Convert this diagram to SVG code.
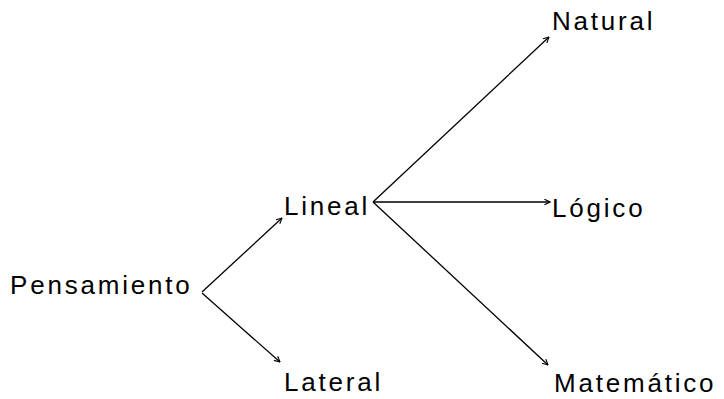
<svg xmlns="http://www.w3.org/2000/svg" width="724" height="399" viewBox="0 0 724 399">
  <style>
    .lbl { font-family: "Liberation Sans", Arial, sans-serif; font-size: 26px; letter-spacing: 2.8px; fill: #000; }
    .edge { stroke: #000; stroke-width: 1.3; fill: none; marker-end: url(#arrow); }
  </style>
  <defs>
    <marker id="arrow" viewBox="0 0 10 10" refX="9" refY="5" markerWidth="7" markerHeight="7" markerUnits="userSpaceOnUse" orient="auto">
      <path d="M1,1 L9,5 L1,9" fill="none" stroke="#000" stroke-width="1.6"/>
    </marker>
  </defs>
  <rect width="724" height="399" fill="#fff"/>

  <g id="connectors">
    <line class="edge" x1="202" y1="292" x2="282" y2="218"/>
    <line class="edge" x1="202" y1="293" x2="280" y2="362"/>
    <line class="edge" x1="373" y1="202" x2="549" y2="37"/>
    <line class="edge" x1="373" y1="202" x2="550" y2="202"/>
    <line class="edge" x1="373" y1="202" x2="548" y2="365"/>
  </g>

  <g id="pensamiento"><text class="lbl" x="10" y="294">Pensamiento</text></g>
  <g id="lineal"><text class="lbl" x="284" y="215">Lineal</text></g>
  <g id="lateral"><text class="lbl" x="284" y="391">Lateral</text></g>
  <g id="natural"><text class="lbl" x="552" y="30">Natural</text></g>
  <g id="logico"><text class="lbl" x="552" y="217">Lógico</text></g>
  <g id="matematico"><text class="lbl" x="554" y="392">Matemático</text></g>
</svg>
